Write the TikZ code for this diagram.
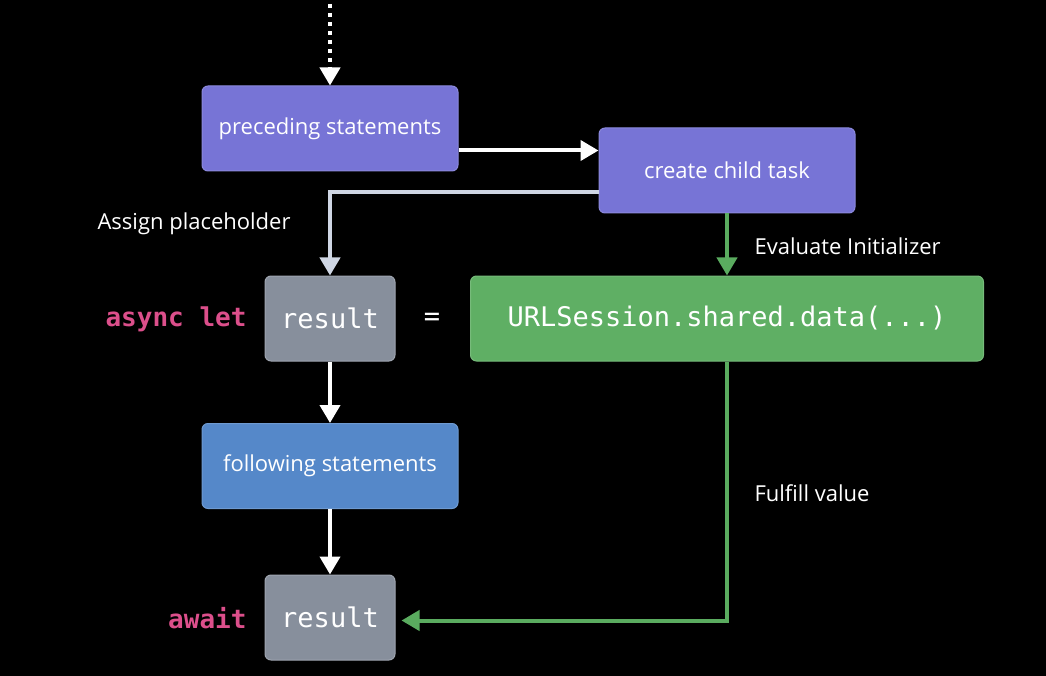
\documentclass[tikz,border=0pt]{standalone}
\usepackage{fontspec}
\setmainfont{Open Sans}
\setmonofont{DejaVu Sans Mono}
\usetikzlibrary{arrows.meta}

\definecolor{stmtpurple}{HTML}{7774D6}
\definecolor{stmtblue}{HTML}{5588C9}
\definecolor{slotgray}{HTML}{878F9C}
\definecolor{taskgreen}{HTML}{5FAF64}
\definecolor{flowgreen}{HTML}{5AAB5F}
\definecolor{holdgray}{HTML}{CFD6E4}
\definecolor{kwpink}{HTML}{DC4F8B}

\tikzset{
  box/.style={rounded corners=6pt, minimum height=85pt, inner sep=0pt,
    line width=1pt, text=white},
  stmtbox/.style={box, minimum width=256pt, font=\fontsize{22}{26}\selectfont},
  slotbox/.style={box, minimum width=130pt, fill=slotgray, draw=slotgray!80!white,
    font=\ttfamily\fontsize{27}{30}\selectfont},
  flowarrow/.style={line width=4pt, -{Triangle[width=20pt,length=18pt]}},
  notetext/.style={anchor=west, text=white, font=\fontsize{22}{26}\selectfont},
  keyword/.style={anchor=east, text=kwpink, font=\ttfamily\bfseries\fontsize{26}{30}\selectfont}
}

\begin{document}
\begin{tikzpicture}[x=1pt, y=-1pt]
    \fill[black] (0,0) rectangle (1046,676);
    \useasboundingbox (0,0) rectangle (1046,676);
    % boxes
    \node[stmtbox, fill=stmtpurple, draw=stmtpurple!85!white] (prec) at (330,128.5)
        {preceding statements};
    \node[stmtbox, fill=stmtpurple, draw=stmtpurple!85!white] (child) at (727,170.5)
        {create child task};
    \node[slotbox] (res1) at (330,318.5) {result};
    \node[box, minimum width=513pt, fill=taskgreen, draw=taskgreen!85!white,
        font=\ttfamily\fontsize{27}{30}\selectfont] (url) at (727,318.5)
        {URLSession.shared.data(...)};
    \node[stmtbox, fill=stmtblue, draw=stmtblue!85!white] (foll) at (330,466)
        {following statements};
    \node[slotbox] (res2) at (330,617.5) {result};
    % texts
    \node[keyword] (asynckw) at (250,319) {async let};
    \node[keyword] (awaitkw) at (250,618) {await};
    \node[text=white, font=\ttfamily\fontsize{27}{30}\selectfont] (eq) at (432,319) {=};
    \node[notetext] (assign) at (94,224) {Assign placeholder};
    \node[notetext] (evaluate) at (751,246) {Evaluate Initializer};
    \node[notetext] (fulfill) at (751,493) {Fulfill value};
    % connectors
    \coordinate (entry) at (330,4);
    \draw[flowarrow, white, dash pattern=on 4pt off 5pt] (entry) -- (prec.north);
    \draw[flowarrow, white] ([yshift=-22pt]prec.east) -- ([yshift=-22pt]prec.east -| child.west);
    \draw[flowarrow, holdgray] ([yshift=-22pt]child.west) -| (res1.north);
    \draw[flowarrow, flowgreen] (child.south) -- (url.north);
    \draw[flowarrow, white] (res1.south) -- (foll.north);
    \draw[flowarrow, white] (foll.south) -- (res2.north);
    \draw[flowarrow, flowgreen, shorten >=6pt] (url.south) |- ([yshift=-3pt]res2.east);
\end{tikzpicture}
\end{document}
